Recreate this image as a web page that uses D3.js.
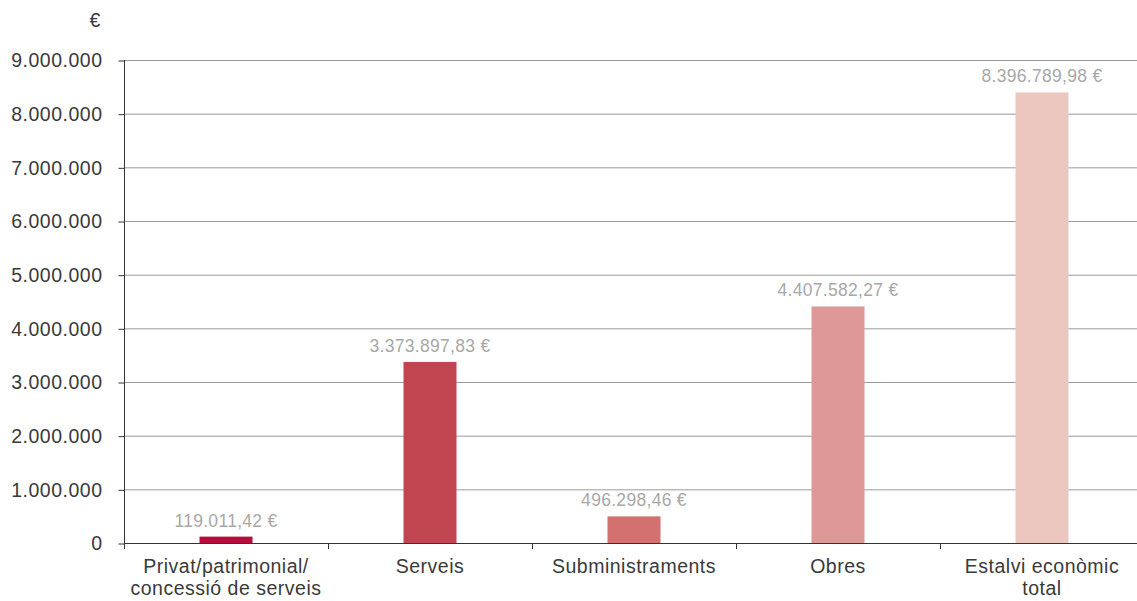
<!DOCTYPE html>
<html><head><meta charset="utf-8">
<script src="https://cdn.jsdelivr.net/npm/d3@7"></script>
<style>body{margin:0;background:#fff;} svg{display:block;font-family:"Liberation Sans",Arial,sans-serif;}</style>
</head><body>
<svg id="c" width="1137" height="601"></svg>
<script>
const categories = [["Privat/patrimonial/","concessió de serveis"],["Serveis"],["Subministraments"],["Obres"],["Estalvi econòmic","total"]];
const values = [119011.42, 3373897.83, 496298.46, 4407582.27, 8396789.98];
const valueLabels = ["119.011,42 €","3.373.897,83 €","496.298,46 €","4.407.582,27 €","8.396.789,98 €"];
const colors = ["#b80d3c","#c24652","#d2716f","#de9896","#ecc7bf"];
const yTicks = [0,1000000,2000000,3000000,4000000,5000000,6000000,7000000,8000000,9000000];
const yTickLabels = ["0","1.000.000","2.000.000","3.000.000","4.000.000","5.000.000","6.000.000","7.000.000","8.000.000","9.000.000"];

(function(){
const svg = d3.select("#c");
const mLeft=124, mRight=1144, mTop=60, mBottom=543;
const x = d3.scaleBand().domain(d3.range(values.length)).range([mLeft,mRight]).paddingInner(0).paddingOuter(0);
const y = d3.scaleLinear().domain([0,9000000]).range([mBottom,mTop]);

// gridlines
svg.append("g").selectAll("line").data(yTicks).join("line")
  .attr("x1",mLeft).attr("x2",1137).attr("y1",d=>y(d)+0.5).attr("y2",d=>y(d)+0.5)
  .attr("stroke","#9a9a9a").attr("stroke-width",1);

// y axis
const yAxis = d3.axisLeft(y).tickValues(yTicks).tickFormat((d,i)=>yTickLabels[i]).tickSize(6).tickPadding(16);
const gy = svg.append("g").attr("transform",`translate(${mLeft+0.5},0.5)`).call(yAxis);
gy.select(".domain").remove();
gy.selectAll(".tick line").attr("stroke","#333");
gy.selectAll(".tick text").attr("fill","#3a3a3a").attr("font-size",19.5).attr("letter-spacing","0.5px").attr("font-family",null);
svg.append("line").attr("x1",mLeft+0.5).attr("x2",mLeft+0.5).attr("y1",mTop).attr("y2",mBottom+6).attr("stroke","#333");

// bars
const bw = 53;
svg.append("g").selectAll("rect").data(values).join("rect")
  .attr("x",(d,i)=>x(i)+x.bandwidth()/2-bw/2).attr("width",bw)
  .attr("y",d=>y(d)).attr("height",d=>mBottom-y(d)).attr("fill",(d,i)=>colors[i]);

// x axis
svg.append("line").attr("x1",mLeft).attr("x2",1137).attr("y1",mBottom+0.5).attr("y2",mBottom+0.5).attr("stroke","#333");
svg.append("g").selectAll("line").data(d3.range(values.length+1)).join("line")
  .attr("x1",i=>Math.round(mLeft+i*x.bandwidth())+0.5).attr("x2",i=>Math.round(mLeft+i*x.bandwidth())+0.5)
  .attr("y1",mBottom).attr("y2",mBottom+6).attr("stroke","#333");

// category labels
const cl = svg.append("g").selectAll("text").data(categories).join("text")
  .attr("x",(d,i)=>x(i)+x.bandwidth()/2).attr("y",573).attr("text-anchor","middle")
  .attr("font-size",19.5).attr("letter-spacing","0.5px").attr("fill","#3a3a3a");
cl.selectAll("tspan").data(d=>d).join("tspan")
  .attr("x",function(){return this.parentNode.getAttribute("x");})
  .attr("dy",(d,i)=>i===0?0:22).text(d=>d);

// value labels
svg.append("g").selectAll("text").data(values).join("text")
  .attr("x",(d,i)=>x(i)+x.bandwidth()/2).attr("y",d=>y(d)-10).attr("text-anchor","middle")
  .attr("font-size",17.5).attr("letter-spacing","0.3px").attr("fill","#a8a8a8").text((d,i)=>valueLabels[i]);

// unit
svg.append("text").attr("x",95).attr("y",27).attr("text-anchor","middle").attr("font-size",19.5).attr("fill","#3a3a3a").text("€");
})();
</script>
</body></html>
